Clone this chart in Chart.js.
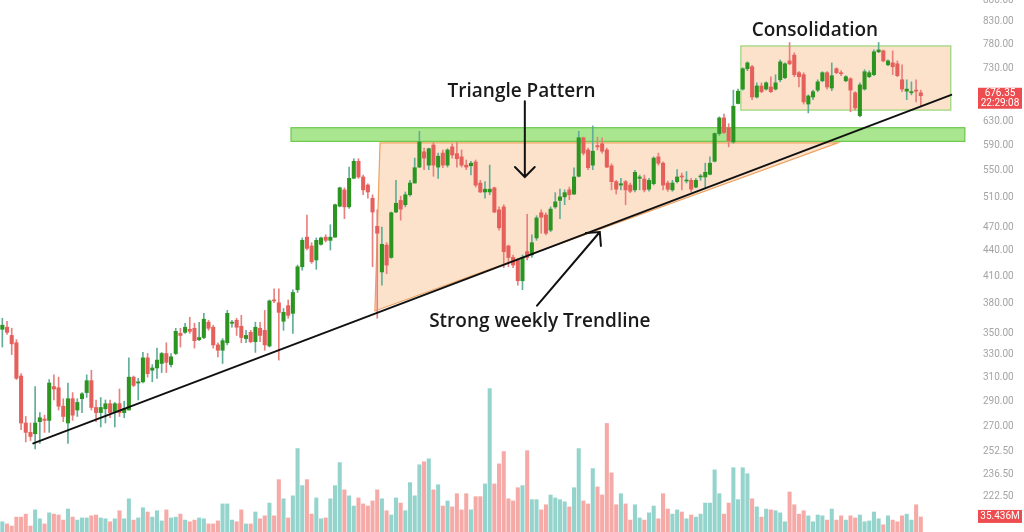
<!DOCTYPE html>
<html>
<head>
<meta charset="utf-8">
<script src="https://cdn.jsdelivr.net/npm/chart.js@4.4.1/dist/chart.umd.min.js"></script>
<style>
    html, body { margin: 0; padding: 0; background: #fff; }
    #chart { display: block; }
</style>
</head>
<body>
<canvas id="chart" width="1024" height="532"></canvas>
<script>
// weekly candles (price)
const opens = [
    354, 356, 348, 341, 311, 273, 266, 265, 274, 276,
    275, 302, 301, 286, 273, 292, 283, 292, 297, 307,
    285, 281, 284, 288, 281, 288, 281, 283, 310, 305,
    306, 327, 316, 318, 322, 331, 321, 331, 350, 351,
    354, 355, 344, 346, 361, 356, 339, 334, 341, 360,
    363, 357, 345, 351, 342, 355, 353, 338, 384, 381,
    362, 378, 370, 395, 421, 457, 446, 429, 448, 457,
    453, 457, 498, 521, 497, 538, 564, 540, 528, 509,
    471, 415, 447, 432, 490, 506, 500, 514, 531, 555,
    579, 558, 590, 555, 577, 558, 587, 576, 571, 558,
    557, 563, 531, 518, 518, 524, 493, 497, 446, 432,
    429, 405, 439, 435, 456, 489, 486, 466, 497, 506,
    511, 521, 515, 541, 602, 582, 558, 589, 592, 582,
    557, 533, 528, 533, 528, 521, 538, 537, 522, 530,
    571, 561, 531, 521, 533, 541, 534, 535, 525, 540,
    540, 544, 564, 609, 636, 619, 595, 662, 689, 729,
    733, 674, 695, 689, 693, 689, 707, 711, 745, 757,
    721, 717, 661, 674, 687, 705, 721, 691, 729, 721,
    705, 709, 682, 640, 689, 713, 717, 764, 766, 737,
    741, 739, 707, 685, 682, 687, 682
];
const highs = [
    365, 362, 355, 344, 313, 278, 273, 302, 281, 279,
    308, 312, 310, 292, 305, 297, 292, 297, 312, 316,
    291, 293, 291, 291, 289, 300, 290, 327, 311, 309,
    332, 331, 321, 336, 332, 341, 331, 355, 355, 360,
    366, 360, 361, 370, 363, 358, 341, 345, 373, 363,
    365, 368, 353, 353, 361, 361, 373, 384, 396, 396,
    375, 384, 395, 423, 456, 486, 450, 456, 457, 460,
    473, 501, 525, 524, 555, 568, 568, 543, 530, 514,
    493, 470, 450, 490, 535, 512, 518, 535, 569, 613,
    585, 585, 594, 577, 582, 584, 592, 595, 582, 566,
    564, 566, 535, 533, 558, 525, 497, 500, 447, 435,
    431, 435, 487, 460, 485, 493, 489, 497, 517, 522,
    521, 525, 554, 613, 603, 585, 622, 603, 602, 585,
    560, 535, 538, 535, 531, 550, 543, 543, 538, 571,
    577, 563, 534, 535, 551, 546, 548, 538, 538, 544,
    561, 571, 610, 638, 643, 626, 687, 689, 731, 743,
    736, 701, 701, 703, 713, 717, 747, 741, 784, 762,
    723, 721, 678, 687, 707, 723, 723, 741, 731, 725,
    715, 711, 684, 701, 727, 725, 768, 784, 768, 747,
    766, 745, 737, 707, 703, 707, 687
];
const lows = [
    337, 349, 330, 308, 268, 259, 260, 254, 258, 266,
    266, 291, 283, 274, 258, 275, 278, 281, 293, 283,
    274, 270, 273, 277, 270, 278, 277, 283, 302, 291,
    305, 310, 306, 309, 314, 314, 319, 330, 337, 350,
    350, 336, 343, 345, 353, 336, 328, 322, 339, 356,
    348, 341, 341, 341, 332, 342, 334, 337, 381, 325,
    353, 365, 350, 392, 417, 441, 425, 418, 447, 451,
    441, 457, 497, 481, 495, 538, 538, 514, 509, 421,
    365, 400, 413, 431, 489, 479, 497, 512, 531, 554,
    551, 551, 541, 538, 554, 555, 569, 555, 555, 551,
    543, 525, 517, 509, 514, 489, 466, 420, 421, 420,
    400, 395, 429, 432, 453, 462, 460, 464, 495, 481,
    500, 507, 514, 540, 574, 551, 551, 582, 577, 554,
    521, 515, 521, 500, 517, 518, 521, 518, 519, 528,
    558, 521, 519, 519, 531, 521, 531, 518, 524, 535,
    524, 543, 563, 606, 609, 587, 593, 661, 687, 725,
    669, 672, 682, 687, 682, 687, 703, 709, 737, 713,
    693, 661, 645, 669, 684, 703, 689, 686, 719, 715,
    703, 647, 650, 638, 687, 711, 715, 762, 743, 735,
    717, 713, 684, 669, 678, 665, 656
];
const closes = [
    358, 351, 340, 309, 273, 266, 263, 273, 277, 275,
    305, 300, 286, 278, 292, 279, 289, 296, 307, 285,
    281, 285, 288, 281, 288, 281, 284, 310, 303, 306,
    327, 313, 318, 325, 331, 323, 328, 352, 348, 356,
    352, 343, 346, 364, 355, 339, 334, 343, 370, 361,
    356, 346, 348, 342, 356, 348, 339, 383, 383, 371,
    371, 368, 392, 421, 453, 443, 427, 453, 456, 453,
    457, 500, 524, 497, 538, 564, 540, 521, 518, 490,
    462, 448, 423, 489, 502, 494, 514, 531, 554, 595,
    569, 584, 558, 572, 558, 582, 574, 568, 558, 555,
    561, 528, 518, 522, 522, 490, 469, 439, 432, 423,
    405, 432, 432, 450, 482, 483, 462, 494, 504, 511,
    517, 514, 540, 602, 577, 554, 580, 587, 580, 555,
    533, 522, 530, 521, 519, 547, 540, 521, 535, 569,
    561, 528, 522, 531, 540, 540, 535, 522, 535, 541,
    547, 561, 609, 636, 611, 597, 657, 685, 729, 741,
    674, 695, 684, 701, 684, 701, 743, 739, 739, 717,
    713, 665, 676, 684, 703, 721, 693, 715, 721, 719,
    713, 687, 654, 697, 723, 721, 764, 768, 745, 745,
    733, 715, 689, 689, 684, 685, 676.35
];
// volume in millions
const volumes = [
    24, 19, 14, 35, 35, 42, 14, 52, 31, 19,
    45, 42, 40, 28, 54, 35, 28, 33, 33, 38,
    40, 33, 31, 24, 31, 50, 31, 78, 28, 33,
    57, 47, 35, 50, 26, 52, 33, 35, 42, 28,
    24, 28, 33, 31, 19, 19, 26, 66, 66, 28,
    24, 52, 19, 19, 47, 31, 38, 68, 38, 123,
    78, 33, 85, 196, 109, 123, 42, 80, 31, 33,
    78, 109, 163, 99, 85, 61, 80, 66, 61, 73,
    99, 78, 50, 40, 80, 68, 50, 116, 85, 158,
    165, 172, 99, 111, 61, 73, 59, 90, 52, 90,
    52, 83, 83, 113, 337, 113, 160, 189, 78, 73,
    104, 109, 191, 76, 76, 52, 64, 87, 80, 76,
    71, 59, 104, 196, 73, 66, 149, 106, 87, 255,
    139, 64, 90, 66, 28, 64, 33, 28, 45, 61,
    31, 90, 54, 42, 52, 47, 31, 40, 35, 42,
    68, 68, 146, 90, 42, 68, 151, 76, 151, 137,
    78, 59, 35, 54, 52, 50, 45, 24, 94, 64,
    42, 50, 38, 24, 40, 38, 28, 54, 28, 38,
    28, 38, 33, 40, 24, 26, 47, 31, 17, 38,
    28, 24, 38, 42, 28, 64, 35.4
];
const priceTicks = [222.5, 236.5, 252.5, 270, 290, 310, 330, 350, 380, 410, 440,
    470, 510, 550, 590, 630, 730, 780, 830, 880];
const lastPriceText = "676.35";
const lastTimeText = "22:29:08";
const lastVolumeText = "35.436M";

// drawings, in (week index, price)
const resistanceZone = { from: 61.6, to: 205.4, low: 596, high: 619 };
const trianglePoints = [[80.6, 593.5], [178.3, 593.5], [79.5, 372.4]];
const consolidationBox = { from: 157.6, to: 202.4, low: 650, high: 776.5 };
const trendline = [[6.6, 258], [202.5, 678]];
const arrows = [
    [[111.5, 666], [111.5, 540]],
    [[114.1, 378], [127.5, 463.6]]
];
const notes = [
    { text: "Triangle Pattern", at: [110.8, 684] },
    { text: "Strong weekly Trendline", at: [114.7, 362] },
    { text: "Consolidation", at: [173.4, 811] }
];

const slots = 207; // leaves the empty space on the right
const labels = Array.from({ length: slots }, (_, i) => i);
const isUp = closes.map((c, i) => c >= opens[i]);

function drawArrow(ctx, x1, y1, x2, y2) {
    const ang = Math.atan2(y2 - y1, x2 - x1);
    const len = 14;
    ctx.beginPath();
    ctx.moveTo(x1, y1);
    ctx.lineTo(x2, y2);
    ctx.moveTo(x2 - len * Math.cos(ang - Math.PI / 4), y2 - len * Math.sin(ang - Math.PI / 4));
    ctx.lineTo(x2, y2);
    ctx.lineTo(x2 - len * Math.cos(ang + Math.PI / 4), y2 - len * Math.sin(ang + Math.PI / 4));
    ctx.stroke();
}

const drawings = {
    id: "drawings",
    beforeDatasetsDraw(chart) {
        const { ctx, scales: { x, y } } = chart;
        ctx.save();

        // triangle
        ctx.beginPath();
        trianglePoints.forEach(([i, p], k) => {
            if (k === 0) ctx.moveTo(x.getPixelForValue(i), y.getPixelForValue(p));
            else ctx.lineTo(x.getPixelForValue(i), y.getPixelForValue(p));
        });
        ctx.closePath();
        ctx.fillStyle = "rgba(250, 190, 140, 0.45)";
        ctx.fill();
        ctx.strokeStyle = "#eea15f";
        ctx.lineWidth = 1.2;
        ctx.stroke();

        // consolidation range
        const bx = x.getPixelForValue(consolidationBox.from);
        const bw = x.getPixelForValue(consolidationBox.to) - bx;
        const by = y.getPixelForValue(consolidationBox.high);
        const bh = y.getPixelForValue(consolidationBox.low) - by;
        ctx.fillStyle = "rgba(250, 190, 140, 0.45)";
        ctx.fillRect(bx, by, bw, bh);
        ctx.strokeStyle = "#96d576";
        ctx.lineWidth = 1.2;
        ctx.strokeRect(bx, by, bw, bh);

        // resistance zone
        const zx = x.getPixelForValue(resistanceZone.from);
        const zw = x.getPixelForValue(resistanceZone.to) - zx;
        const zy = y.getPixelForValue(resistanceZone.high);
        const zh = y.getPixelForValue(resistanceZone.low) - zy;
        ctx.fillStyle = "#a9e68f";
        ctx.fillRect(zx, zy, zw, zh);
        ctx.strokeStyle = "#6cc84b";
        ctx.strokeRect(zx, zy, zw, zh);

        ctx.restore();
    },
    afterDatasetsDraw(chart) {
        const { ctx, scales: { x, y } } = chart;
        ctx.save();
        ctx.strokeStyle = "#111";
        ctx.lineWidth = 2;
        ctx.lineCap = "round";

        ctx.beginPath();
        ctx.moveTo(x.getPixelForValue(trendline[0][0]), y.getPixelForValue(trendline[0][1]));
        ctx.lineTo(x.getPixelForValue(trendline[1][0]), y.getPixelForValue(trendline[1][1]));
        ctx.stroke();

        arrows.forEach(([a, b]) => {
            drawArrow(ctx, x.getPixelForValue(a[0]), y.getPixelForValue(a[1]),
                x.getPixelForValue(b[0]), y.getPixelForValue(b[1]));
        });

        ctx.fillStyle = "#1a1a1a";
        ctx.font = "600 19px 'Open Sans'";
        ctx.textAlign = "center";
        ctx.textBaseline = "middle";
        notes.forEach(n => {
            ctx.fillText(n.text, x.getPixelForValue(n.at[0]), y.getPixelForValue(n.at[1]));
        });
        ctx.restore();
    },
    afterDraw(chart) {
        const { ctx, scales: { y, vol } } = chart;
        ctx.save();
        ctx.font = "10px Roboto";
        ctx.textAlign = "center";
        ctx.textBaseline = "middle";
        const left = y.left + 8;
        const cx = left + 22;

        // last price tag
        const py = y.getPixelForValue(closes[closes.length - 1]);
        ctx.fillStyle = "#ee4d4f";
        ctx.fillRect(left, py - 8, 44, 21);
        ctx.fillStyle = "#fff";
        ctx.fillText(lastPriceText, cx, py - 2);
        ctx.fillText(lastTimeText, cx, py + 8);

        // last volume tag
        const vy = vol.getPixelForValue(volumes[volumes.length - 1]);
        ctx.fillStyle = "#ee4d4f";
        ctx.fillRect(left, vy - 7, 44, 13);
        ctx.fillStyle = "#fff";
        ctx.fillText(lastVolumeText, cx, vy);
        ctx.restore();
    }
};

new Chart(document.getElementById("chart"), {
    type: "bar",
    data: {
        labels: labels,
        datasets: [
            {
                label: "Volume",
                data: volumes,
                yAxisID: "vol",
                backgroundColor: isUp.map(u => u ? "#95d4cc" : "#f5aaa7"),
                barThickness: 3.4,
                grouped: false,
                order: 3
            },
            {
                label: "Wicks",
                data: lows.map((l, i) => [l, highs[i]]),
                yAxisID: "y",
                backgroundColor: isUp.map(u => u ? "#62ad98" : "#e8817e"),
                barThickness: 1,
                grouped: false,
                order: 2
            },
            {
                label: "Bodies",
                data: opens.map((o, i) => [o, closes[i]]),
                yAxisID: "y",
                backgroundColor: isUp.map(u => u ? "#2c9420" : "#e55f5b"),
                barThickness: 3.4,
                minBarLength: 1,
                grouped: false,
                order: 1
            }
        ]
    },
    options: {
        responsive: false,
        animation: false,
        layout: { padding: 0 },
        plugins: {
            legend: { display: false },
            tooltip: { enabled: false }
        },
        scales: {
            x: { display: false, offset: true },
            y: {
                type: "logarithmic",
                position: "right",
                min: 201.8,
                max: 882,
                grid: { display: false, drawTicks: false },
                border: { display: false },
                ticks: {
                    autoSkip: false,
                    padding: 13,
                    color: "#a4a4a4",
                    font: { family: "Roboto", size: 10 },
                    callback: v => Number(v).toFixed(2)
                },
                afterBuildTicks: scale => {
                    scale.ticks = priceTicks.map(v => ({ value: v }));
                },
                afterFit: scale => {
                    scale.width = 54;
                    scale.paddingTop = 0;
                    scale.paddingBottom = 0;
                }
            },
            vol: {
                display: false,
                min: 0,
                max: 1250
            }
        }
    },
    plugins: [drawings]
});
</script>
</body>
</html>
